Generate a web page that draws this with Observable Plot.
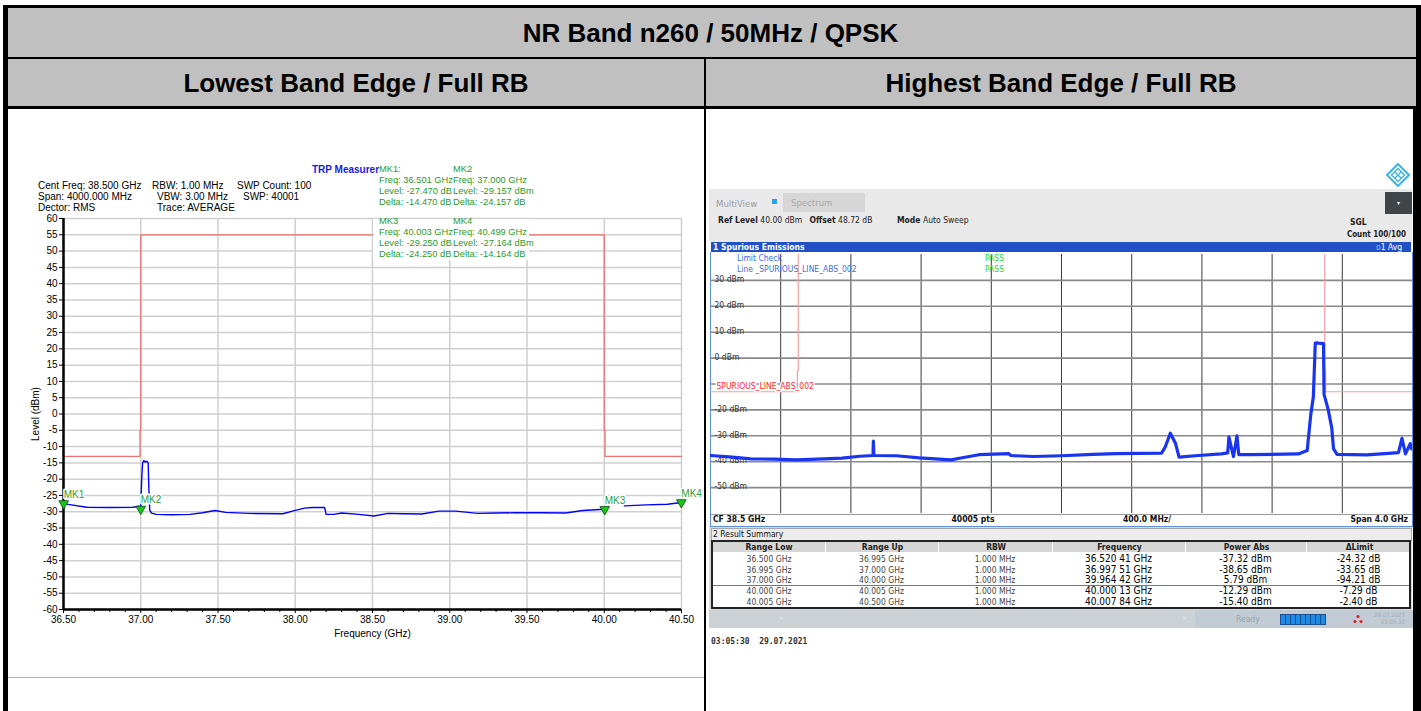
<!DOCTYPE html>
<html><head><meta charset="utf-8">
<script src="https://cdn.jsdelivr.net/npm/d3@7"></script>
<script src="https://cdn.jsdelivr.net/npm/@observablehq/plot@0.6"></script>
<style>
html,body{margin:0;padding:0;background:#fff;}
body{width:1421px;height:711px;overflow:hidden;position:relative;font-family:"Liberation Sans",Arial,sans-serif;}
.abs{position:absolute;white-space:nowrap;}
.blk{position:absolute;background:#000;}
.hdr{position:absolute;background:#c0c0c0;}
.htxt{position:absolute;white-space:nowrap;font-weight:bold;font-size:26px;line-height:30px;color:#000;}
.t10{position:absolute;white-space:nowrap;font-size:10px;line-height:11px;color:#000;}
.g{color:#2a9a2a;font-size:9.3px;}
.rs{position:absolute;white-space:nowrap;font-family:"Liberation Sans Narrow","Arial Narrow","DejaVu Sans Condensed",sans-serif;font-size:8.5px;line-height:10px;color:#222;}
</style></head><body>

<!-- table frame -->
<div class="hdr" style="left:8px;top:8px;width:1408px;height:49px"></div>
<div class="hdr" style="left:8px;top:59px;width:1408px;height:47px"></div>
<div class="blk" style="left:3px;top:5px;width:1418px;height:3px"></div>
<div class="blk" style="left:3px;top:57px;width:1418px;height:2px"></div>
<div class="blk" style="left:3px;top:106px;width:1418px;height:3px"></div>
<div class="blk" style="left:3px;top:5px;width:5px;height:706px"></div>
<div class="blk" style="left:1416px;top:5px;width:5px;height:706px"></div>
<div class="blk" style="left:1413px;top:109px;width:8px;height:602px"></div>
<div class="blk" style="left:704px;top:59px;width:2px;height:652px"></div>

<div class="htxt" style="left:0;top:18px;width:1421px;text-align:center">NR Band n260 / 50MHz / QPSK</div>
<div class="htxt" style="left:8px;top:68px;width:696px;text-align:center">Lowest Band Edge / Full RB</div>
<div class="htxt" style="left:706px;top:68px;width:710px;text-align:center">Highest Band Edge / Full RB</div>

<!-- left chart header texts -->
<div class="t10" style="left:38px;top:179.5px">Cent Freq: 38.500 GHz</div>
<div class="t10" style="left:38px;top:190.5px">Span: 4000.000 MHz</div>
<div class="t10" style="left:38px;top:201.5px">Dector: RMS</div>
<div class="t10" style="left:152px;top:179.5px">RBW: 1.00 MHz</div>
<div class="t10" style="left:157px;top:190.5px">VBW: 3.00 MHz</div>
<div class="t10" style="left:157px;top:201.5px">Trace: AVERAGE</div>
<div class="t10" style="left:237px;top:179.5px">SWP Count: 100</div>
<div class="t10" style="left:243px;top:190.5px">SWP: 40001</div>
<div class="t10" style="left:312px;top:163.5px;color:#1a1ae6;font-weight:bold">TRP Measurer</div>
<div class="abs" style="left:8px;top:677px;width:696px;height:1px;background:#b0b0b0"></div>

<div id="left" class="abs" style="left:8px;top:108px"></div>

<div class="abs" style="left:373px;top:219px;width:156px;height:41px;background:#fff"></div>
<div class="t10 g" style="left:379px;top:163.5px">MK1:</div>
<div class="t10 g" style="left:453px;top:163.5px">MK2</div>
<div class="t10 g" style="left:379px;top:174.5px">Freq: 36.501 GHz</div>
<div class="t10 g" style="left:379px;top:185.5px">Level: -27.470 dB</div>
<div class="t10 g" style="left:379px;top:196.5px">Delta: -14.470 dB</div>
<div class="t10 g" style="left:453px;top:174.5px">Freq: 37.000 GHz</div>
<div class="t10 g" style="left:453px;top:185.5px">Level: -29.157 dBm</div>
<div class="t10 g" style="left:453px;top:196.5px">Delta: -24.157 dB</div>
<div class="t10 g" style="left:379px;top:215.5px">MK3</div>
<div class="t10 g" style="left:453px;top:215.5px">MK4</div>
<div class="t10 g" style="left:379px;top:226.5px">Freq: 40.003 GHz</div>
<div class="t10 g" style="left:379px;top:237.5px">Level: -29.250 dB</div>
<div class="t10 g" style="left:379px;top:248.5px">Delta: -24.250 dB</div>
<div class="t10 g" style="left:453px;top:226.5px">Freq: 40.499 GHz</div>
<div class="t10 g" style="left:453px;top:237.5px">Level: -27.164 dBm</div>
<div class="t10 g" style="left:453px;top:248.5px">Delta: -14.164 dB</div>

<!-- right chart chrome -->
<svg class="abs" style="left:1386px;top:163px" width="24" height="24" viewBox="0 0 24 24">
 <path d="M12 1 L23 12 L12 23 L1 12 Z" fill="none" stroke="#3cb4e6" stroke-width="2"/>
 <path d="M12 5.5 L18.5 12 L12 18.5 L5.5 12 Z" fill="none" stroke="#3cb4e6" stroke-width="1.4"/>
 <path d="M9 9 L15 15 M15 9 L9 15" stroke="#3cb4e6" stroke-width="1.4"/>
</svg>
<div class="abs" style="left:709px;top:189px;width:703px;height:53px;background:#e9e9e9"></div>
<div class="rs" style="left:716px;top:198px;font-size:9.5px;line-height:11px;color:#9a9a9a">MultiView</div>
<div class="abs" style="left:772px;top:199px;width:5px;height:5px;background:#2aa0e6"></div>
<div class="abs" style="left:783px;top:193px;width:82px;height:19px;background:#d6d6d6"></div>
<div class="rs" style="left:791px;top:197px;font-size:9.5px;line-height:11px;color:#a8a8a8">Spectrum</div>
<div class="abs" style="left:1385px;top:192px;width:27px;height:22px;background:#3f4549;color:#fff;font-size:6px;line-height:22px;text-align:center">▾</div>
<div class="rs" style="left:718px;top:215px"><b>Ref Level</b> 40.00 dBm&nbsp;&nbsp;&nbsp;<b>Offset</b> 48.72 dB</div>
<div class="rs" style="left:897px;top:215px"><b>Mode</b> Auto Sweep</div>
<div class="rs" style="left:1350px;top:217px"><b>SGL</b></div>
<div class="rs" style="left:1300px;top:230px;width:106px;text-align:right;font-size:8px"><b>Count 100/100</b></div>
<div class="abs" style="left:711px;top:242px;width:700px;height:10px;background:#2150c6"></div>
<div class="rs" style="left:713px;top:242px;color:#fff;font-weight:bold">1 Spurious Emissions</div>
<div class="rs" style="left:1376px;top:242px;color:#fff"><span style="color:#9fb8ff">o</span>1 Avg</div>
<div class="abs" style="left:710px;top:252px;width:701px;height:274px;background:#fff;border:1px solid #5b8fe0;border-top:none"></div>
<div id="right" class="abs" style="left:710px;top:252px"></div>
<div class="rs" style="left:737px;top:253px;color:#3a6ee8">Limit Check</div>
<div class="rs" style="left:737px;top:264px;color:#3a6ee8">Line _SPURIOUS_LINE_ABS_002</div>
<div class="rs" style="left:985px;top:253px;color:#22d822">PASS</div>
<div class="rs" style="left:985px;top:264px;color:#22d822">PASS</div>
<div class="abs" style="left:711px;top:514px;width:701px;height:1px;background:#999"></div>
<div class="rs" style="left:713px;top:514px;color:#111"><b>CF 38.5 GHz</b></div>
<div class="rs" style="left:923px;top:514px;width:100px;text-align:center;color:#111"><b>40005 pts</b></div>
<div class="rs" style="left:1097px;top:514px;width:100px;text-align:center;color:#111"><b>400.0 MHz/</b></div>
<div class="rs" style="left:1308px;top:514px;width:100px;text-align:right;color:#111"><b>Span 4.0 GHz</b></div>

<div class="abs" style="left:709px;top:527px;width:703px;height:83px;background:#dcdcdc"></div>
<div class="abs" style="left:711px;top:528px;width:699px;height:11px;background:#ececec;border:1px solid #a8a8a8"></div>
<div class="rs" style="left:713px;top:529px;color:#111">2 Result Summary</div>
<div id="tbl" class="abs" style="left:711px;top:540px;width:696px;height:65px;border:2px solid #222;background:#fff"></div>

<div class="abs" style="left:709px;top:610px;width:486px;height:18px;background:#ccd1d6"></div>
<div class="abs" style="left:1195px;top:610px;width:218px;height:18px;background:#c2cad3"></div>
<div class="rs" style="left:1183px;top:613px;color:#eef2f6;font-size:6px">▿</div>
<div class="rs" style="left:780px;top:613px;color:#eef2f6;font-size:6px">▿</div>
<div class="rs" style="left:1236px;top:614px;color:#9aa4ae">Ready</div>
<div class="abs" style="left:1280px;top:614px;width:44px;height:9px;border:1px solid #1b4f8f;background:repeating-linear-gradient(90deg,#1e8ae6 0 4px,#15508f 4px 5px)"></div>
<svg class="abs" style="left:1353px;top:614px" width="10" height="10"><circle cx="5" cy="2.5" r="1.6" fill="#e02020"/><circle cx="2" cy="7.5" r="1.6" fill="#e02020"/><circle cx="8" cy="7.5" r="1.6" fill="#e02020"/></svg>
<div class="rs" style="left:1345px;top:611px;width:60px;text-align:right;font-size:6px;line-height:7px;color:#a2aab4">29.07.2021<br>03:05:30</div>
<div class="abs" style="left:711px;top:636px;font-family:'DejaVu Sans Mono',monospace;font-size:8px;line-height:11px;font-weight:bold;color:#333;white-space:pre">03:05:30  29.07.2021</div>

<script>
// ---------- Left chart data ----------
const leftFreq  = [36.50,36.55,36.65,36.80,36.95,36.99,37.00,37.006,37.012,37.02,37.03,37.04,37.048,37.052,37.058,37.07,37.10,37.20,37.32,37.40,37.48,37.55,37.70,37.92,38.00,38.06,38.11,38.19,38.20,38.25,38.30,38.41,38.51,38.60,38.70,38.82,38.93,39.04,39.18,39.30,39.42,39.60,39.75,39.86,40.00,40.06,40.13,40.27,40.41,40.50];
const leftLevel = [-27.5,-27.9,-28.6,-28.7,-28.6,-28.3,-29.2,-20.0,-15.0,-14.3,-14.8,-14.5,-15.0,-22.0,-29.5,-30.4,-30.8,-30.9,-30.8,-30.3,-29.6,-30.2,-30.5,-30.6,-29.6,-28.9,-28.7,-28.7,-30.8,-30.8,-30.4,-30.8,-31.3,-30.5,-30.6,-30.7,-29.8,-29.8,-30.5,-30.4,-30.3,-30.3,-30.4,-29.6,-29.25,null,-28.2,-27.9,-27.7,-27.16];
const leftLimitFreq  = [36.5,36.995,36.995,37.0,37.0,40.0,40.0,40.005,40.005,40.5];
const leftLimitLevel = [-13,-13,-5,-5,55,55,-5,-5,-13,-13];
const markerNames = ["MK1","MK2","MK3","MK4"];
const markerFreq  = [36.501,37.000,40.003,40.499];
const markerLevel = [-27.470,-29.157,-29.250,-27.164];
const leftXTicks = [36.5,37.0,37.5,38.0,38.5,39.0,39.5,40.0,40.5];
const leftYTicks = [60,55,50,45,40,35,30,25,20,15,10,5,0,-5,-10,-15,-20,-25,-30,-35,-40,-45,-50,-55,-60];

// ---------- Right chart data ----------
const rightFreq  = [36.50,36.625,36.73,36.86,36.99,37.145,37.25,37.35,37.426,37.428,37.431,37.56,37.69,37.87,37.95,38.03,38.20,38.21,38.34,38.50,38.68,38.81,39.07,39.09,39.12,39.15,39.17,39.28,39.41,39.447,39.454,39.48,39.50,39.51,39.59,39.85,39.90,39.92,39.935,39.946,39.954,39.964,39.993,39.996,40.02,40.04,40.05,40.07,40.24,40.42,40.44,40.46,40.487,40.495];
const rightLevel = [-37.6,-38.2,-38.9,-39.0,-39.3,-38.9,-38.6,-37.9,-37.6,-32.0,-37.6,-37.7,-38.5,-39.3,-38.3,-37.3,-36.9,-37.6,-38.0,-37.7,-37.2,-36.9,-36.7,-34.5,-29.0,-33.0,-38.2,-37.6,-37.0,-36.6,-30.5,-38.0,-30.0,-37.3,-37.3,-37.0,-35.7,-22.0,-15.0,5.8,5.9,5.79,5.6,-14.0,-20.0,-27.0,-35.0,-37.2,-37.4,-36.5,-31.0,-37.0,-33.0,-35.0];
const rightLimitFreq  = [36.5,36.995,36.995,37.0,37.0,40.0,40.0,40.005,40.005,40.5];
const rightLimitLevel = [-13,-13,-5,-5,100,100,-5,-5,-13,-13];
const rightXGrid = [36.9,37.3,37.7,38.1,38.5,38.9,39.3,39.7,40.1];
const rightYGrid = [30,20,10,0,-10,-20,-30,-40,-50];
const rightYLabels = [30,20,10,0,-20,-30,-40,-50];

// ---------- Result summary ----------
const colHeads = ["Range Low","Range Up","RBW","Frequency","Power Abs","ΔLimit"];
const rangeLow = ["36.500 GHz","36.995 GHz","37.000 GHz","40.000 GHz","40.005 GHz"];
const rangeUp  = ["36.995 GHz","37.000 GHz","40.000 GHz","40.005 GHz","40.500 GHz"];
const rbw      = ["1.000 MHz","1.000 MHz","1.000 MHz","1.000 MHz","1.000 MHz"];
const peakFreq = ["36.520 41 GHz","36.997 51 GHz","39.964 42 GHz","40.000 13 GHz","40.007 84 GHz"];
const powerAbs = ["-37.32 dBm","-38.65 dBm","5.79 dBm","-12.29 dBm","-15.40 dBm"];
const deltaLim = ["-24.32 dB","-33.65 dB","-94.21 dB","-7.29 dB","-2.40 dB"];

// ---------- Left chart ----------
const leftTrace = leftFreq.map((f,i)=>({f, l: leftLevel[i]}));
const leftLimit = leftLimitFreq.map((f,i)=>({f, l: leftLimitLevel[i]}));
const markers = markerNames.map((n,i)=>({name:n, f:markerFreq[i], l:markerLevel[i]}));
const minor = d3.range(0,41).map(i=>36.5+i*0.1).filter(v=>Math.abs(Math.round(v*2)-v*2)>0.01);

const leftPlot = Plot.plot({
  width: 696, height: 600,
  marginLeft: 55, marginRight: 23, marginTop: 110, marginBottom: 99,
  x: {domain: [36.5, 40.5], label: null},
  y: {domain: [-60, 60], label: null},
  style: {fontFamily: "Liberation Sans, Arial, sans-serif", fontSize: "10px", color: "#000", background: "none", overflow: "visible"},
  marks: [
    Plot.gridX(leftXTicks, {stroke: "#cfcfcf", strokeOpacity: 1, strokeWidth: 1.5}),
    Plot.gridY(leftYTicks, {stroke: "#cfcfcf", strokeOpacity: 1, strokeWidth: 1.5}),
    Plot.line(leftLimit, {x: "f", y: "l", stroke: "#f07070", strokeWidth: 1.3}),
    Plot.line(leftTrace, {x: "f", y: "l", stroke: "#0000ff", strokeWidth: 1.4}),
    Plot.ruleX([36.5], {stroke: "#000", strokeWidth: 2.5}),
    Plot.ruleY([-60], {stroke: "#000", strokeWidth: 2.5}),
    Plot.axisX(minor, {tickSize: 3, tickFormat: () => "", stroke: "#000", label: null}),
    Plot.axisX(leftXTicks, {tickSize: 4, tickPadding: 2, tickFormat: d => d.toFixed(2), label: "Frequency (GHz)", labelAnchor: "center", labelOffset: 27, labelArrow: "none"}),
    Plot.axisY(leftYTicks, {tickSize: 4, tickPadding: 2, tickFormat: d => String(d), label: "Level (dBm)", labelAnchor: "center", labelOffset: 32, labelArrow: "none"}),
    Plot.text(markers, {x: "f", y: "l", text: "name", dx: 0, dy: -9, textAnchor: "start", fill: "#2f9e2f", stroke: "white", strokeWidth: 3, fontSize: 10}),
    Plot.dot(markers, {x: "f", y: "l", symbol: "triangle", rotate: 180, r: 3.6, fill: "#14c814", stroke: "#0b4d0b", strokeWidth: 0.8})
  ]
});
document.getElementById("left").appendChild(leftPlot);

// ---------- Right chart ----------
const rightTrace = rightFreq.map((f,i)=>({f, l: rightLevel[i]}));
const rightLimit = rightLimitFreq.map((f,i)=>({f, l: rightLimitLevel[i]}));
const rightPlot = Plot.plot({
  width: 702, height: 262,
  marginLeft: 0, marginRight: 0, marginTop: 2, marginBottom: 1,
  x: {domain: [36.5, 40.5], axis: null},
  y: {domain: [-60, 40], axis: null},
  style: {fontFamily: "Liberation Sans Narrow, Arial Narrow, DejaVu Sans Condensed, sans-serif", fontSize: "8.5px", color: "#333", background: "none"},
  marks: [
    Plot.gridX(rightXGrid, {stroke: "#3a3a3a", strokeOpacity: 1, strokeWidth: 1}),
    Plot.gridY(rightYGrid, {stroke: "#8a8a8a", strokeOpacity: 1, strokeWidth: 1.6}),
    Plot.axisY(rightYLabels, {anchor: "left", label: null, tickSize: 0, tickPadding: 0, textAnchor: "start", dx: 4, dy: -1, tickFormat: d => `${d} dBm`, fill: "#333"}),
    Plot.line(rightLimit, {x: "f", y: "l", stroke: "#f4a0a0", strokeWidth: 1.2, clip: true}),
    Plot.text(["SPURIOUS_LINE_ABS_002"], {x: () => 36.5, y: () => -13, text: d => d, dx: 6, dy: -6, textAnchor: "start", fill: "#ff2a2a", stroke: "white", strokeWidth: 3, fontSize: 8.5}),
    Plot.line(rightTrace, {x: "f", y: "l", stroke: "#1a35f0", strokeWidth: 3.2, strokeLinejoin: "round", clip: true})
  ]
});
document.getElementById("right").appendChild(rightPlot);

// ---------- Result table ----------
const colX = [0,112,225,339,472,593,698];
const tbl = document.getElementById("tbl");
let html = `<div class="abs" style="left:0;top:0;width:696px;height:10px;background:#d6d6d6"></div>`;
colHeads.forEach((h,j)=>{
  html += `<div class="rs" style="left:${colX[j]}px;top:0;width:${colX[j+1]-colX[j]}px;text-align:center;font-weight:bold;color:#222;border-left:${j?1:0}px solid #fff">${h}</div>`;
});
const cols = [rangeLow, rangeUp, rbw, peakFreq, powerAbs, deltaLim];
for (let i = 0; i < 5; i++) {
  const top = 12 + i*10.7;
  cols.forEach((c,j)=>{
    const big = j >= 3;
    html += `<div class="rs" style="left:${colX[j]}px;top:${top}px;width:${colX[j+1]-colX[j]}px;text-align:center;font-size:${big?10:8.5}px;color:${big?'#000':'#444'}">${c[i]}</div>`;
  });
}
html += `<div class="abs" style="left:0;top:43px;width:696px;height:1px;background:#777"></div>`;
tbl.innerHTML = html;
</script>
</body></html>
